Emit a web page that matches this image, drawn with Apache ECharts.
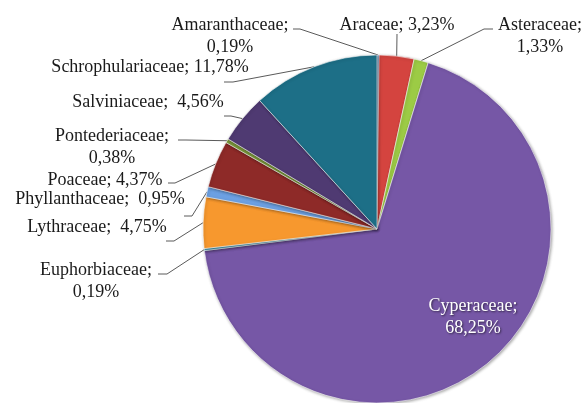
<!DOCTYPE html>
<html>
<head>
<meta charset="utf-8">
<script src="https://cdn.jsdelivr.net/npm/echarts@6/dist/echarts.min.js"></script>
<style>
  html, body { margin: 0; padding: 0; background: #ffffff; }
  #chart { width: 584px; height: 403px; }
</style>
</head>
<body>
<div id="chart"></div>
<script>
// ---- Data ----
const categories = ['Amaranthaceae', 'Araceae', 'Asteraceae', 'Cyperaceae', 'Euphorbiaceae',
  'Lythraceae', 'Phyllanthaceae', 'Poaceae', 'Pontederiaceae', 'Salviniaceae', 'Schrophulariaceae'];
const values = [0.19, 3.23, 1.33, 68.25, 0.19, 4.75, 0.95, 4.37, 0.38, 4.56, 11.78];

// ---- Styles ----
const colors = ['#4F81BD', '#D4443F', '#9CCB45', '#7657A6', '#4BACC6',
  '#F7982E', '#6CA0E2', '#8E2A28', '#7D9A3C', '#4F3A72', '#1D6F87'];
const FONT = 'Liberation Serif';
// separator between name and value
const separators = {
  Amaranthaceae: '\n', Asteraceae: '\n', Pontederiaceae: '\n', Euphorbiaceae: '\n', Cyperaceae: '\n',
  Salviniaceae: '  ', Phyllanthaceae: '  ', Lythraceae: '  '
};
// label placement (layout only)
const spots = {
  Amaranthaceae:     { x: 230, y: 36,  elbow: [300, 29], end: [293, 29] },
  Araceae:           { x: 397, y: 25,  elbow: [397, 34], end: [397, 34] },
  Asteraceae:        { x: 540, y: 36,  elbow: [484, 29], end: [493, 29] },
  Cyperaceae:        { x: 473, y: 317 },
  Euphorbiaceae:     { x: 96,  y: 281, elbow: [167, 274], end: [158, 274] },
  Lythraceae:        { x: 97,  y: 227, elbow: [174, 241], end: [166, 241] },
  Phyllanthaceae:    { x: 100, y: 199, elbow: [192, 216], end: [184, 216] },
  Poaceae:           { x: 105, y: 180, elbow: [175, 183], end: [168, 183] },
  Pontederiaceae:    { x: 112, y: 147, elbow: [186, 140], end: [178, 140] },
  Salviniaceae:      { x: 148, y: 102, elbow: [231, 116], end: [224, 116] },
  Schrophulariaceae: { x: 150, y: 67,  elbow: [233, 82], end: [224, 82] }
};

function fmt(v) { return v.toFixed(2).replace('.', ',') + '%'; }

const chart = echarts.init(document.getElementById('chart'));

const data = categories.map((name, i) => {
  const item = {
    name: name,
    value: values[i],
    itemStyle: { color: colors[i] }
  };
  if (name === 'Cyperaceae') {
    item.labelLine = { show: false };
  }
  return item;
});

chart.setOption({
  backgroundColor: '#ffffff',
  animation: false,
  textStyle: { fontFamily: FONT },
  series: [{
    type: 'pie',
    center: [377, 229],
    radius: 174,
    startAngle: 90,
    clockwise: true,
    avoidLabelOverlap: false,
    minShowLabelAngle: 0,
    data: data,
    itemStyle: {
      borderColor: 'rgba(255,255,255,0.55)',
      borderWidth: 1,
      shadowColor: 'rgba(0,0,0,0.35)',
      shadowBlur: 3,
      shadowOffsetX: 1,
      shadowOffsetY: 1
    },
    label: {
      show: true,
      position: 'outside',
      fontFamily: FONT,
      fontSize: 18,
      lineHeight: 22,
      color: '#1a1a1a',
      formatter: function (p) {
        const sep = separators[p.name] !== undefined ? separators[p.name] : ' ';
        const tok = p.name === 'Cyperaceae' ? 'w' : 't';
        return (p.name + ';' + sep + fmt(p.value)).split('\n')
          .map(function (line) { return '{' + tok + '|' + line + '}'; }).join('\n');
      },
      rich: {
        t: { fontFamily: FONT, fontSize: 18, lineHeight: 22, color: '#1a1a1a', align: 'center' },
        w: { fontFamily: FONT, fontSize: 18, lineHeight: 22, color: '#ffffff', align: 'center',
             textShadowColor: 'rgba(0,0,0,0.6)', textShadowBlur: 2, textShadowOffsetX: 1, textShadowOffsetY: 1 }
      }
    },
    labelLine: {
      show: true,
      length: 10,
      length2: 10,
      lineStyle: { color: '#5a5a5a', width: 1 }
    },
    labelLayout: function (params) {
      const name = categories[params.dataIndex];
      const s = spots[name];
      const res = { x: s.x, y: s.y, align: 'center', verticalAlign: 'middle' };
      if (s.end && params.labelLinePoints && params.labelLinePoints.length) {
        res.labelLinePoints = [params.labelLinePoints[0], s.elbow, s.end];
      }
      return res;
    }
  }]
});
</script>
</body>
</html>
